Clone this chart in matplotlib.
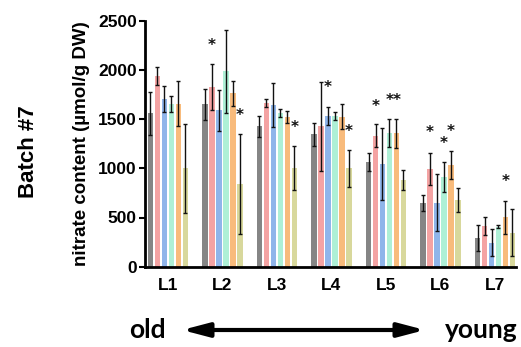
import numpy as np
import matplotlib
matplotlib.use("Agg")
import matplotlib.pyplot as plt
from matplotlib.patches import FancyArrowPatch

leaves = ["L1", "L2", "L3", "L4", "L5", "L6", "L7"]
series_colors = ["#858585", "#f4a3a3", "#8fb5ea", "#aef0d6", "#f8bb7c", "#d8d89c"]

# mean nitrate content per leaf for each of the six lines
means = [
    [1560, 1650, 1425, 1345, 1065, 650, 290],
    [1940, 1830, 1660, 1425, 1330, 995, 415],
    [1705, 1590, 1645, 1530, 1045, 650, 245],
    [1650, 1985, 1560, 1530, 1360, 910, 405],
    [1655, 1762, 1525, 1525, 1355, 1035, 502],
    [1000, 840, 1000, 1000, 880, 680, 345],
]
errors = [
    [220, 160, 110, 120, 95, 80, 130],
    [90, 235, 40, 450, 118, 165, 95],
    [135, 210, 225, 95, 365, 290, 140],
    [80, 420, 40, 40, 140, 150, 15],
    [230, 130, 60, 130, 150, 145, 170],
    [450, 505, 225, 190, 100, 120, 240],
]
# significance marks: (leaf index, series index, height)
stars = [
    (1, 1, 2253), (1, 5, 1535), (2, 5, 1410), (3, 2, 1823), (3, 5, 1379),
    (4, 1, 1633), (4, 3, 1694), (4, 4, 1694),
    (5, 1, 1359), (5, 3, 1247), (5, 4, 1369), (6, 4, 864),
]
yticks = [0, 500, 1000, 1500, 2000, 2500]

W, H = 521, 347
fig = plt.figure(figsize=(W / 100, H / 100), dpi=100)
ax = fig.add_axes([145 / W, 1 - 266.7 / H, (516 - 145) / W, (266.7 - 20.7) / H])

x = np.arange(len(leaves))
pitch = 0.128
width = 0.097
for i, (m, e, c) in enumerate(zip(means, errors, series_colors)):
    xs = x + (i - 2.5) * pitch
    ax.bar(xs, m, width=width, color=c, edgecolor="none", zorder=2)
    ax.errorbar(xs, m, yerr=e, fmt="none", ecolor="#111111", elinewidth=1.0,
                capsize=1.6, capthick=1.0, zorder=3)

for li, si, h in stars:
    ax.text(x[li] + (si - 2.5) * pitch, h, "*", ha="center", va="center",
            fontsize=11, fontweight="bold", color="#111111", zorder=4)

ax.set_xlim(-0.42, 6.385)
ax.set_ylim(0, 2500)
ax.set_yticks(yticks)
ax.set_yticklabels([str(t) for t in yticks], fontsize=12.5, fontweight="bold",
                   family="Liberation Sans")
ax.set_xticks(x)
ax.set_xticklabels(leaves, fontsize=12.5, fontweight="bold", family="Liberation Sans")
ax.tick_params(axis="x", length=0, pad=8)
ax.tick_params(axis="y", length=4, width=1.5, pad=2)
for s in ["top", "right"]:
    ax.spines[s].set_visible(False)
for s in ["left", "bottom"]:
    ax.spines[s].set_linewidth(2)
ax.set_ylabel("nitrate content (\u00b5mol/g DW)", fontsize=13.5, fontweight="bold",
              family="Liberation Sans", labelpad=6)

fig.text(28 / W, 1 - 152 / H, "Batch #7", rotation=90, ha="center", va="center",
         fontsize=16, fontweight="bold", family="Liberation Sans")

fig.text(147 / W, 1 - 330 / H, "old", ha="center", va="center",
         fontsize=19, fontweight="bold", family="Lato")
fig.text(481 / W, 1 - 330 / H, "young", ha="center", va="center",
         fontsize=19, fontweight="bold", family="Lato")
arrow = FancyArrowPatch((182 / W, 1 - 330 / H), (425 / W, 1 - 330 / H),
                        transform=fig.transFigure,
                        arrowstyle="<|-|>,head_length=1.6,head_width=0.42",
                        mutation_scale=10, lw=3, color="black",
                        shrinkA=0, shrinkB=0)
fig.add_artist(arrow)

fig.savefig("out.png", dpi=100)
